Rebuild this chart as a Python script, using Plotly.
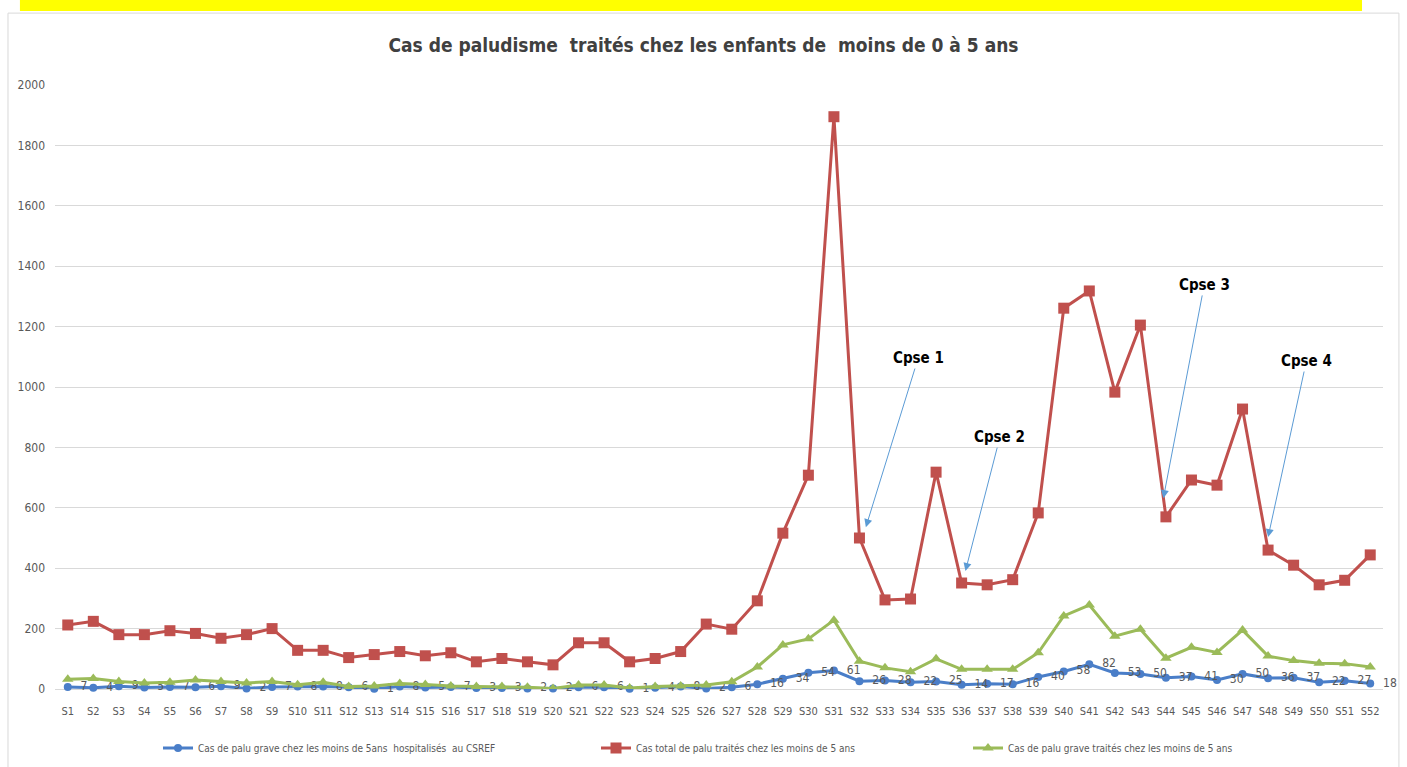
import plotly.graph_objects as go

semaines = [f"S{i}" for i in range(1, 53)]

# Cas de palu grave chez les moins de 5ans hospitalisés au CSREF
hospitalises = [7, 4, 9, 5, 7, 6, 9, 2, 7, 8, 8, 6, 1, 8, 5, 7, 3, 3, 2, 2,
                6, 6, 1, 4, 8, 2, 6, 16, 34, 54, 61, 26, 28, 22, 25, 14, 17, 16, 40, 58,
                82, 53, 50, 37, 41, 30, 50, 36, 37, 22, 27, 18]

# Cas total de palu traités chez les moins de 5 ans
total_traites = [212, 224, 180, 180, 193, 184, 168, 180, 200, 128, 128, 104, 114, 124, 110, 120, 90, 101, 90, 80,
                 153, 153, 90, 101, 124, 215, 198, 292, 516, 708, 1895, 500, 295, 298, 718, 351, 345, 362, 583, 1261,
                 1318, 983, 1205, 570, 692, 675, 927, 460, 410, 345, 360, 444]

# Cas de palu grave traités chez les moins de 5 ans
grave_traites = [32, 35, 25, 20, 22, 30, 25, 20, 25, 14, 22, 8, 10, 18, 15, 10, 8, 8, 6, 2,
                 13, 13, 3, 8, 10, 13, 24, 73, 146, 166, 228, 92, 70, 57, 100, 65, 65, 65, 120, 242,
                 278, 175, 198, 102, 138, 121, 195, 109, 94, 85, 84, 73]

noms = ["Cas de palu grave chez les moins de 5ans  hospitalisés  au CSREF",
        "Cas total de palu traités chez les moins de 5 ans",
        "Cas de palu grave traités chez les moins de 5 ans"]

# annotations: texte, position du texte (indice semaine, valeur), pointe de la flèche
cpse_textes = ["Cpse 1", "Cpse 2", "Cpse 3", "Cpse 4"]
cpse_texte_pos = [(33.3, 1096), (36.5, 834), (44.5, 1338), (48.5, 1086)]
cpse_fleche_pos = [(31.25, 536), (35.15, 391), (42.9, 632), (47.0, 503)]

FONT = "DejaVu Sans Condensed, Liberation Sans Narrow, Arial Narrow, sans-serif"
BLEU = "#4A7EC8"
ROUGE = "#C0504D"
VERT = "#9BBB59"
GRIS = "#595959"

fig = go.Figure()
fig.add_trace(go.Scatter(
    x=semaines, y=hospitalises, name=noms[0], legend="legend",
    mode="lines+markers+text", text=["  " + str(v) for v in hospitalises],
    textposition="middle right", textfont=dict(size=12, color=GRIS, family=FONT),
    cliponaxis=False,
    line=dict(color=BLEU, width=3), marker=dict(symbol="circle", size=8, color=BLEU)
))
fig.add_trace(go.Scatter(
    x=semaines, y=total_traites, name=noms[1], mode="lines+markers", legend="legend2",
    line=dict(color=ROUGE, width=3), marker=dict(symbol="square", size=11, color=ROUGE)
))
fig.add_trace(go.Scatter(
    x=semaines, y=grave_traites, name=noms[2], mode="lines+markers", legend="legend3",
    line=dict(color=VERT, width=3), marker=dict(symbol="triangle-up", size=10, color=VERT)
))

for txt, (tx, ty), (hx, hy) in zip(cpse_textes, cpse_texte_pos, cpse_fleche_pos):
    fig.add_annotation(
        x=hx, y=hy, ax=tx, ay=ty, xref="x", yref="y", axref="x", ayref="y",
        text="<b>" + txt + "</b>", showarrow=True, arrowhead=2, arrowsize=1.6, arrowwidth=1,
        arrowcolor="#5B9BD5", font=dict(size=15, color="black", family=FONT),
        standoff=0, startstandoff=0
    )

# légendes séparées, placées comme dans l'original (coordonnées de la page)
leg_style = dict(orientation="h", xref="container", yref="container",
                 y=1 - 748 / 767, yanchor="middle", xanchor="left",
                 font=dict(size=10, color=GRIS, family=FONT), itemwidth=30,
                 bgcolor="rgba(0,0,0,0)")

fig.update_layout(
    width=1407, height=767,
    margin=dict(l=55, r=24, t=85, b=78, autoexpand=False),
    paper_bgcolor="white", plot_bgcolor="white",
    font=dict(family=FONT, color=GRIS),
    title=dict(text="<b>Cas de paludisme  traités chez les enfants de  moins de 0 à 5 ans</b>",
               x=0.5, xanchor="center", y=1 - 45 / 767, yanchor="middle",
               font=dict(size=19, color="#404040", family=FONT)),
    showlegend=True,
    legend=dict(x=158 / 1407, **leg_style),
    legend2=dict(x=596 / 1407, **leg_style),
    legend3=dict(x=968 / 1407, **leg_style),
    xaxis=dict(type="category", range=[-0.5, 51.5], showgrid=False, showline=False, automargin=False,
               ticks="", ticklabelstandoff=14, tickfont=dict(size=11, color=GRIS, family=FONT), tickangle=0),
    yaxis=dict(range=[0, 2000], dtick=200, showgrid=True, gridcolor="#D9D9D9", gridwidth=1, automargin=False,
               zeroline=True, zerolinecolor="#D9D9D9", zerolinewidth=1, showline=False,
               ticks="", ticklabelstandoff=9, tickfont=dict(size=12, color=GRIS, family=FONT)),
    shapes=[
        dict(type="rect", xref="paper", yref="paper", x0=-0.0354, x1=1.012, y0=-0.14, y1=1.119,
             line=dict(color="#D9D9D9", width=1), fillcolor="rgba(0,0,0,0)", layer="below"),
        dict(type="rect", xref="paper", yref="paper", x0=-0.0264, x1=0.9842, y0=1.1225, y1=1.15,
             line=dict(width=0), fillcolor="#FFFF00", layer="above"),
    ],
)

fig.write_html("out.html", config={"displayModeBar": False},
               post_script="document.body.style.margin='0';")
